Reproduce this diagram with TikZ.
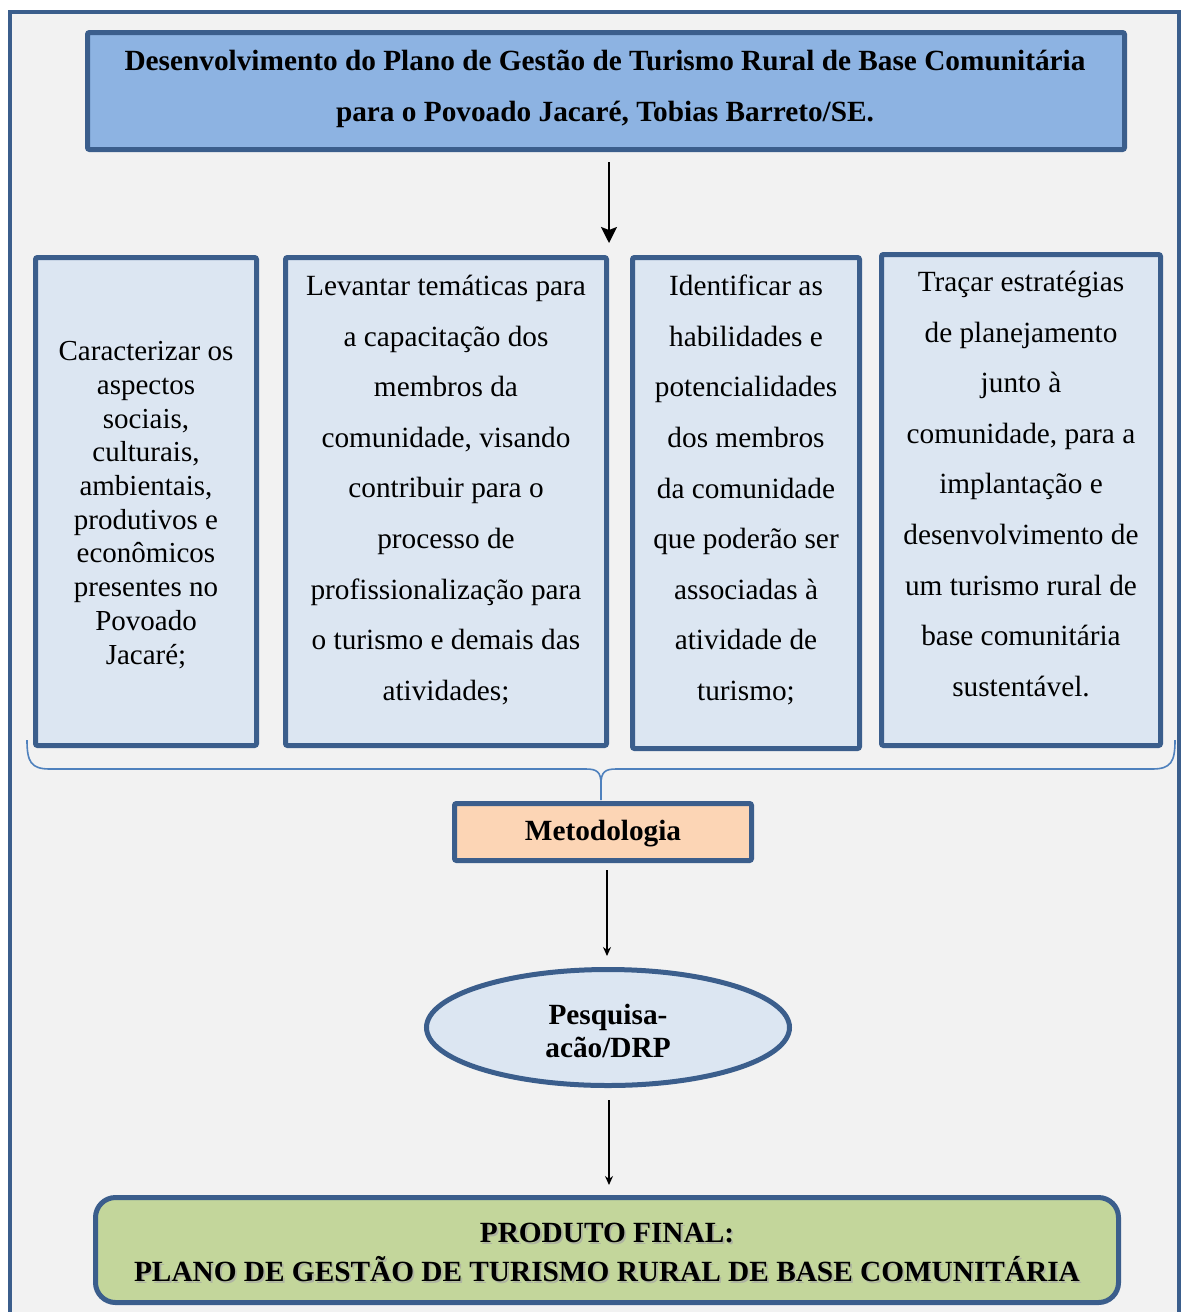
\documentclass[tikz,border=0pt]{standalone}
\usepackage{fontspec}
\setmainfont{Liberation Serif}
\usetikzlibrary{shapes.geometric,arrows.meta}
\definecolor{frameblue}{RGB}{59,94,140}
\definecolor{titlefill}{RGB}{141,179,226}
\definecolor{boxfill}{RGB}{220,230,242}
\definecolor{bgfill}{RGB}{242,242,242}
\definecolor{metfill}{RGB}{252,213,181}
\definecolor{finalfill}{RGB}{195,214,155}
\definecolor{braceblue}{RGB}{79,129,189}
\begin{document}
\begin{tikzpicture}[x=1pt,y=-1pt,
  box/.style={draw=frameblue, line width=5pt, inner sep=0pt, rounded corners=2pt},
  txt/.style={align=center, inner sep=0pt, font=\fontsize{29.3}{50.6}\selectfont},
  txtone/.style={align=center, inner sep=0pt, font=\fontsize{29}{33.7}\selectfont},
  btxt/.style={align=center, inner sep=0pt, font=\fontsize{29.3}{51}\selectfont\bfseries},
  bigarrow/.style={line width=2pt, -{Stealth[length=16pt,width=16pt,inset=3pt]}},
  smallarrow/.style={line width=2pt, -{Stealth[length=9pt,width=8pt]}}]
\useasboundingbox (0,0) rectangle (1181,1312);
% outer frame
\fill[white] (0,0) rectangle (1181,1312);
\filldraw[fill=bgfill, draw=frameblue, line width=4pt] (10,1330) -- (10,12) -- (1179,12) -- (1179,1330);

% title
\node[box, fill=titlefill, minimum width=1037pt, minimum height=117pt] (title) at (606,91) {};
\node[btxt] (titletxt) at (605,88.5) {Desenvolvimento do Plano de Gestão de Turismo Rural de Base Comunitária\\para o Povoado Jacaré, Tobias Barreto/SE.};

% four boxes
\node[box, fill=boxfill, minimum width=221pt, minimum height=488pt] (b1) at (146,501.5) {};
\node[box, fill=boxfill, minimum width=321pt, minimum height=488pt] (b2) at (446,501.5) {};
\node[box, fill=boxfill, minimum width=227pt, minimum height=491pt] (b3) at (746,503) {};
\node[box, fill=boxfill, minimum width=279pt, minimum height=491pt] (b4) at (1021,500) {};

\node[txtone] (t1) at (146,505) {Caracterizar os\\aspectos\\sociais,\\culturais,\\ambientais,\\produtivos e\\econômicos\\presentes no\\Povoado\\Jacaré;};
\node[txt] (t2) at (446,490) {Levantar temáticas para\\a capacitação dos\\membros da\\comunidade, visando\\contribuir para o\\processo de\\profissionalização para\\o turismo e demais das\\atividades;};
\node[txt] (t3) at (746,490) {Identificar as\\habilidades e\\potencialidades\\dos membros\\da comunidade\\que poderão ser\\associadas à\\atividade de\\turismo;};
\node[txt] (t4) at (1021,484) {Traçar estratégias\\de planejamento\\junto à\\comunidade, para a\\implantação e\\desenvolvimento de\\um turismo rural de\\base comunitária\\sustentável.};

% arrow title -> boxes
\coordinate (a1e) at (609,243);
\draw[bigarrow, shorten <=10pt] ([xshift=3pt]title.south) -- (a1e);

% brace
\coordinate (brL) at (27,740);
\coordinate (brR) at (1175,740);
\coordinate (brM) at (601,800);
\draw[braceblue, line width=1.6pt] (brL) .. controls (27,762) and (31,769) .. (50,769)
  -- (586,769) .. controls (597,769) and (601,772) .. (601,784) -- (brM);
\draw[braceblue, line width=1.6pt] (brR) .. controls (1175,762) and (1171,769) .. (1152,769)
  -- (616,769) .. controls (605,769) and (601,772) .. (601,784);

% metodologia
\node[box, fill=metfill, minimum width=297pt, minimum height=57pt] (met) at (603,832) {};
\node[btxt] (mettxt) at (603,834) {Metodologia};

% ellipse
\node[ellipse, draw=frameblue, line width=5pt, fill=boxfill, minimum width=363pt, minimum height=116pt, inner sep=0pt] (pesq) at (608,1027.5) {};
\node[align=center, inner sep=0pt, font=\fontsize{29.3}{33}\selectfont\bfseries] (pesqtxt) at (608,1031) {Pesquisa-\\acão/DRP};

% final box
\node[draw=frameblue, line width=5pt, fill=finalfill, rounded corners=20pt, minimum width=1023pt, minimum height=105pt, inner sep=0pt] (final) at (607,1250) {};
\node[align=center, inner sep=0pt, font=\fontsize{29.3}{39}\selectfont\bfseries, text=black!35, opacity=0.7] (finalshadow) at (608.8,1254.3) {PRODUTO FINAL:\\PLANO DE GESTÃO DE TURISMO RURAL DE BASE COMUNITÁRIA};
\node[align=center, inner sep=0pt, font=\fontsize{29.3}{39}\selectfont\bfseries] (finaltxt) at (607,1252.5) {PRODUTO FINAL:\\PLANO DE GESTÃO DE TURISMO RURAL DE BASE COMUNITÁRIA};

% arrows
\draw[smallarrow, shorten <=7pt, shorten >=11pt] ([xshift=4pt]met.south) -- ([xshift=-1pt]pesq.north);
\draw[smallarrow, shorten <=12pt, shorten >=10pt] ([xshift=1pt]pesq.south) -- ([xshift=2pt]final.north);
\end{tikzpicture}
\end{document}
